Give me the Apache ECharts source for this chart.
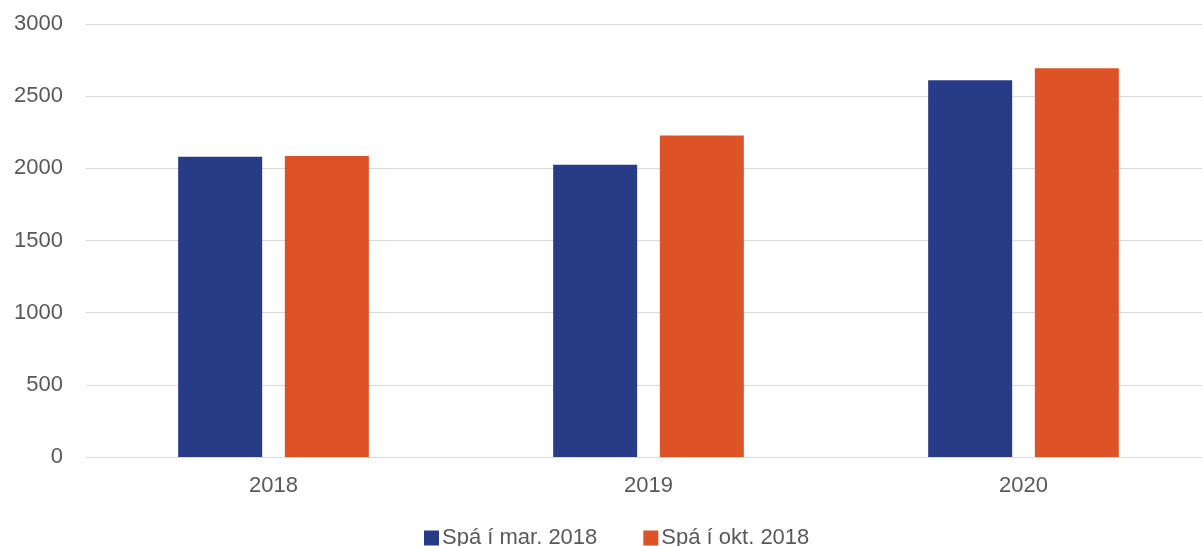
<!DOCTYPE html>
<html>
<head>
<meta charset="utf-8">
<script src="https://cdn.jsdelivr.net/npm/echarts@6/dist/echarts.min.js"></script>
<style>html,body{margin:0;padding:0;background:#fff;overflow:hidden}#c{width:1211px;height:546px}</style>
</head>
<body>
<div id="c"></div>
<script>
const categories = ['2018', '2019', '2020'];
const seriesNames = ['Spá í mar. 2018', 'Spá í okt. 2018'];
const marValues = [2080, 2025, 2610];
const oktValues = [2085, 2228, 2693];
const yTicks = [0, 500, 1000, 1500, 2000, 2500, 3000];

const chart = echarts.init(document.getElementById('c'));
const font = '"Liberation Sans", Arial, sans-serif';
chart.setOption({
  animation: false,
  textStyle: { fontFamily: font },
  grid: { left: 86, right: 0, top: 24, bottom: 89, containLabel: false },
  legend: {
    top: 527,
    left: 424,
    itemWidth: 15,
    itemHeight: 15,
    itemGap: 46,
    padding: 0,
    icon: 'rect',
    textStyle: { fontSize: 22, color: '#595959', fontFamily: font, padding: [0, 0, 0, -2] },
    data: seriesNames
  },
  xAxis: {
    type: 'category',
    data: categories,
    axisLine: { lineStyle: { color: '#d9d9d9', width: 1 } },
    axisTick: { show: false },
    axisLabel: { fontSize: 22, color: '#595959', margin: 18, fontFamily: font }
  },
  yAxis: {
    type: 'value',
    min: yTicks[0],
    max: yTicks[yTicks.length - 1],
    interval: 500,
    axisLine: { show: false },
    axisTick: { show: false },
    splitLine: { lineStyle: { color: '#d9d9d9', width: 1 } },
    axisLabel: { fontSize: 22, color: '#595959', margin: 23, fontFamily: font, formatter: v => String(v) }
  },
  series: [
    { name: seriesNames[0], type: 'bar', data: marValues, barWidth: '22.4%', barGap: '27%', itemStyle: { color: '#283B87' } },
    { name: seriesNames[1], type: 'bar', data: oktValues, barWidth: '22.4%', barGap: '27%', itemStyle: { color: '#DD5325' } }
  ]
});
</script>
</body>
</html>
